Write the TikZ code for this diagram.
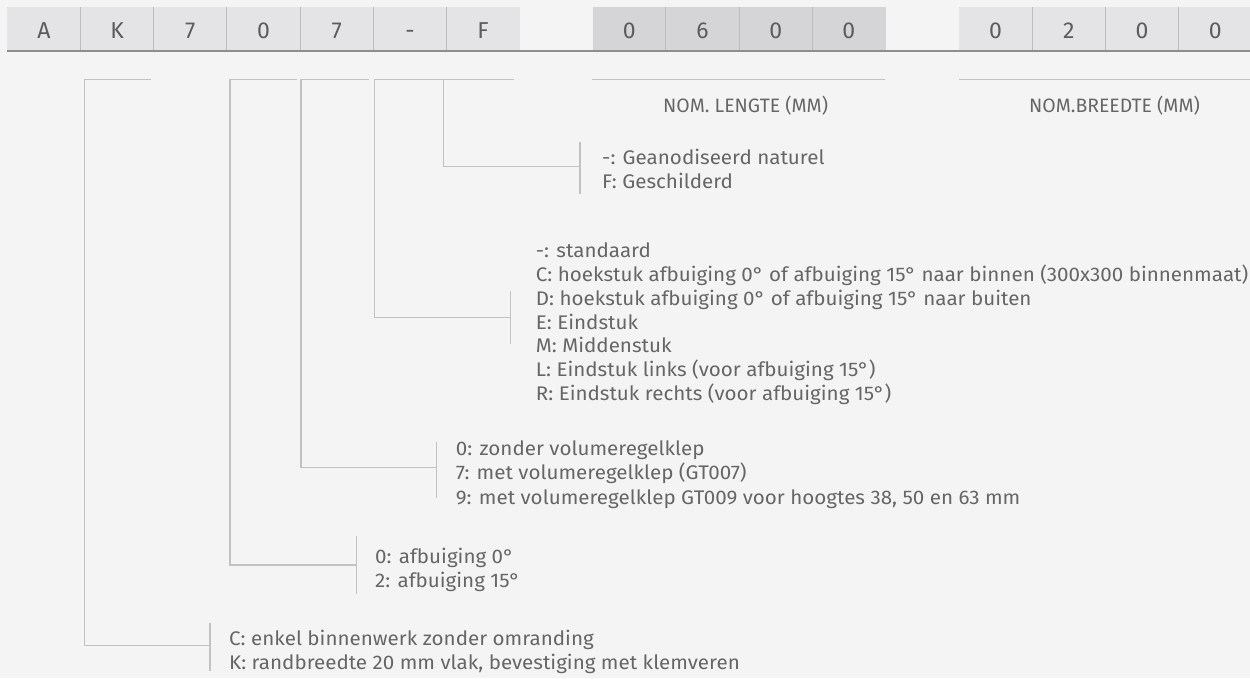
\documentclass[tikz,border=0pt]{standalone}
\usepackage{fontspec}
\setmainfont{Fira Sans}
\newfontfamily\widefira[FakeStretch=1.045]{Fira Sans}
\definecolor{bg}{HTML}{F4F4F4}
\definecolor{cellA}{HTML}{E4E4E6}
\definecolor{cellB}{HTML}{D5D5D7}
\definecolor{divc}{HTML}{BDBDBD}
\definecolor{uline}{HTML}{8E8E8E}
\definecolor{txt}{HTML}{666666}
\definecolor{celltxt}{HTML}{5C5C5C}
\definecolor{brkc}{HTML}{C2C2C2}
\begin{document}
\begin{tikzpicture}[x=1pt,y=-1pt,
  celltext/.style={anchor=base, inner sep=0pt, text=celltxt, font=\fontsize{23}{23}\selectfont},
  lbl/.style={anchor=base west, inner sep=0pt, text=txt, font=\widefira\fontsize{19.7}{24}\selectfont},
  caplbl/.style={anchor=base west, inner sep=0pt, text=txt, font=\fontsize{19.4}{24}\selectfont},
  brk/.style={draw=brkc, line width=1.2pt},
  divider/.style={draw=divc, line width=1pt}]
\useasboundingbox (0,0) rectangle (1250,678);
\fill[bg] (0,0) rectangle (1250,678);
% cell backgrounds
\fill[cellA] (7.3,7.3) rectangle (519.7,50);
\fill[cellB] (592.7,7.3) rectangle (885.5,50);
\fill[cellA] (959,7.3) rectangle (1250,50);
% dividers
\foreach \x in {80.5,153.7,226.9,300.1,373.3,446.5} \draw[divider] (\x,7.3) -- (\x,50);
\foreach \x in {665.9,739.1,812.3} \draw[divider] (\x,7.3) -- (\x,50);
\foreach \x in {1032.2,1105.4,1178.6} \draw[divider] (\x,7.3) -- (\x,50);
\draw[uline, line width=1.8pt] (7.3,50.8) -- (1250,50.8);
% cell letters
\node[celltext] (c1) at (43.9,38.3) {A};
\node[celltext] (c2) at (117.1,38.3) {K};
\node[celltext] (c3) at (190.3,38.3) {7};
\node[celltext] (c4) at (263.5,38.3) {0};
\node[celltext] (c5) at (336.7,38.3) {7};
\node[celltext] (c6) at (409.9,38.3) {-};
\node[celltext] (c7) at (483.1,38.3) {F};
\node[celltext] (c8) at (629.3,38.3) {0};
\node[celltext] (c9) at (702.5,38.3) {6};
\node[celltext] (c10) at (775.7,38.3) {0};
\node[celltext] (c11) at (848.9,38.3) {0};
\node[celltext] (c12) at (995.6,38.3) {0};
\node[celltext] (c13) at (1068.8,38.3) {2};
\node[celltext] (c14) at (1142.0,38.3) {0};
\node[celltext] (c15) at (1215.2,38.3) {0};
% coordinates for brackets
\coordinate (a1) at (150.7,79.5); \coordinate (a2) at (84.3,79.5);
\coordinate (a3) at (84.3,645.5); \coordinate (a4) at (210,645.5);
\coordinate (a5) at (210,622.7); \coordinate (a6) at (210,670.7);
\coordinate (b1) at (296.7,79.5); \coordinate (b2) at (230,79.5);
\coordinate (b3) at (230,565); \coordinate (b4) at (356.7,565);
\coordinate (b5) at (356.7,536); \coordinate (b6) at (356.7,593.5);
\coordinate (d1) at (369.3,79.5); \coordinate (d2) at (301,79.5);
\coordinate (d3) at (301,467.7); \coordinate (d4) at (436.7,467.7);
\coordinate (d5) at (436.7,441.7); \coordinate (d6) at (436.7,497.5);
\coordinate (e1) at (513.5,79.5); \coordinate (e2) at (374.3,79.5);
\coordinate (e3) at (374.3,317.3); \coordinate (e4) at (510.7,317.3);
\coordinate (e5) at (510.7,291); \coordinate (e6) at (510.7,344.3);
\coordinate (f2) at (443.7,79.5);
\coordinate (f3) at (443.7,166.7); \coordinate (f4) at (580,166.7);
\coordinate (f5) at (580,141.7); \coordinate (f6) at (580,194);
\coordinate (g1) at (592.3,79.5); \coordinate (g2) at (884.5,79.5);
\coordinate (h1) at (959,79.5); \coordinate (h2) at (1250,79.5);
\draw[brk] (a1) -- (a2) -- (a3) -- (a4); \draw[brk] (a5) -- (a6);
\draw[brk] (b1) -- (b2) -- (b3) -- (b4); \draw[brk] (b5) -- (b6);
\draw[brk] (d1) -- (d2) -- (d3) -- (d4); \draw[brk] (d5) -- (d6);
\draw[brk] (e1) -- (e2) -- (e3) -- (e4); \draw[brk] (e5) -- (e6);
\draw[brk] (f2) -- (f3) -- (f4); \draw[brk] (f5) -- (f6);
\draw[brk] (g1) -- (g2);
\draw[brk] (h1) -- (h2);
% labels
\node[caplbl] (nl) at (663,112.7) {NOM. LENGTE (MM)};
\node[caplbl] (nb) at (1029,112.7) {NOM.BREEDTE (MM)};
\node[lbl] (f1t) at (602,164.3) {-: Geanodiseerd naturel};
\node[lbl] (f2t) at (602,188.3) {F: Geschilderd};
\node[lbl] (s1) at (535.7,257.3) {-: standaard};
\node[lbl] (s2) at (535.7,281.2) {C: hoekstuk afbuiging 0° of afbuiging 15° naar binnen (300x300 binnenmaat)};
\node[lbl] (s3) at (535.7,305.1) {D: hoekstuk afbuiging 0° of afbuiging 15° naar buiten};
\node[lbl] (s4) at (535.7,329.0) {E: Eindstuk};
\node[lbl] (s5) at (535.7,352.9) {M: Middenstuk};
\node[lbl] (s6) at (535.7,376.8) {L: Eindstuk links (voor afbuiging 15°)};
\node[lbl] (s7) at (535.7,400.7) {R: Eindstuk rechts (voor afbuiging 15°)};
\node[lbl] (v1) at (455.7,455.7) {0: zonder volumeregelklep};
\node[lbl] (v2) at (455.7,479.8) {7: met volumeregelklep (GT007)};
\node[lbl] (v3) at (455.7,504) {9: met volumeregelklep GT009 voor hoogtes 38, 50 en 63 mm};
\node[lbl] (w1) at (375,563.3) {0: afbuiging 0°};
\node[lbl] (w2) at (375,587) {2: afbuiging 15°};
\node[lbl] (k1) at (229,645) {C: enkel binnenwerk zonder omranding};
\node[lbl] (k2) at (229,669) {K: randbreedte 20 mm vlak, bevestiging met klemveren};
\end{tikzpicture}
\end{document}
